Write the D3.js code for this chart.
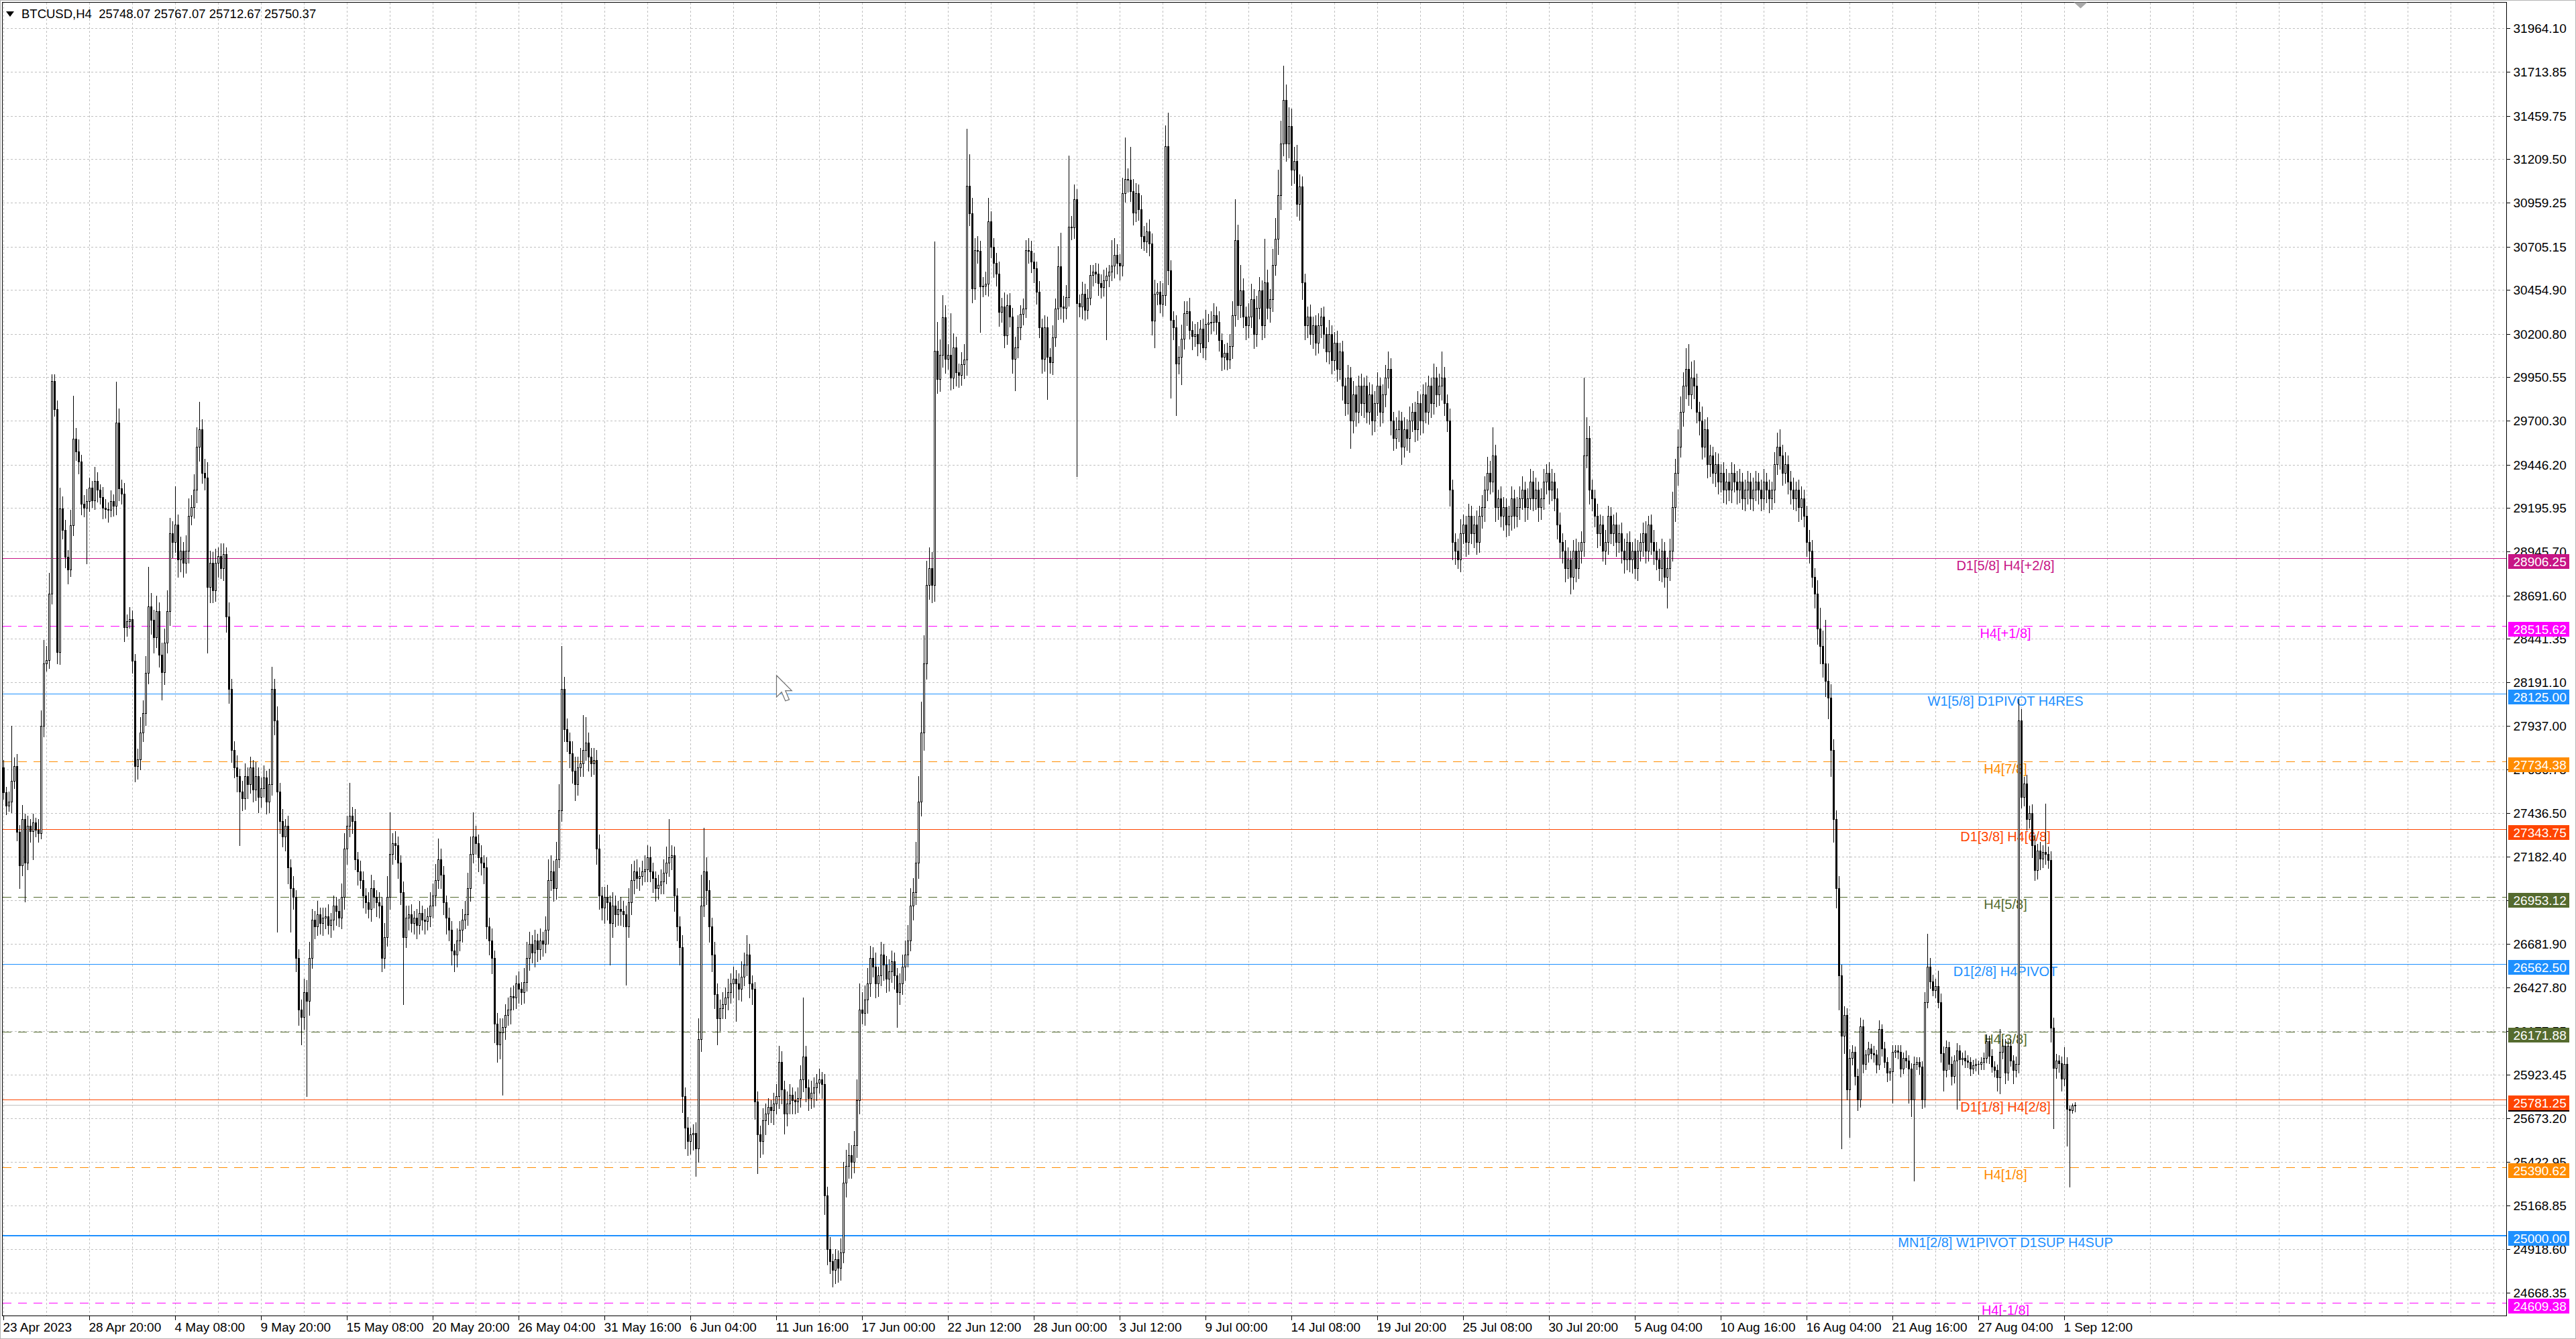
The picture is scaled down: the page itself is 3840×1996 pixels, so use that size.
<!DOCTYPE html>
<html><head><meta charset="utf-8">
<script src="https://cdn.jsdelivr.net/npm/d3@7/dist/d3.min.js"></script>
<style>
html,body{margin:0;padding:0;background:#fff;overflow:hidden;}
svg{display:block;}
text{font-family:"Liberation Sans",Arial,sans-serif;}
</style></head><body>
<svg id="c" width="3840" height="1996"></svg>
<script>
// ---------------- DATA ----------------
const symbolName = "BTCUSD,H4";
const lastBar = {open:25748.07, high:25767.07, low:25712.67, close:25750.37};
const firstOpen = 27700;
// H4 closes, one per bar (bar 0 = 23 Apr 2023 12:00)
const closes = [
27555,27478,27500,27620,27707,27325,27134,27400,27150,27360,
27330,27380,27340,27320,27937,28297,28320,28702,29929,29766,
28365,29193,29069,28914,28841,29097,29596,29522,29464,29220,
29197,29236,29313,29240,29352,29302,29259,29197,29190,29186,
29236,29209,29689,29309,29279,28508,28543,28554,28314,27708,
27746,27899,28014,28243,28626,28550,28450,28600,28350,28250,
28420,28600,29050,29000,29100,28900,28950,28880,28950,29150,
29200,29300,29550,29650,29400,29370,28740,28880,28720,28880,
28920,28850,28930,28570,28150,27800,27700,27650,27560,27520,
27650,27600,27700,27570,27650,27530,27580,27640,27500,27600,
28150,27970,27560,27390,27300,27360,27120,27000,26950,26600,
26300,26260,26400,26350,26600,26820,26780,26850,26800,26830,
26840,26790,26820,26900,26870,26830,26950,27230,27360,27420,
27390,27170,27100,27050,26960,26920,26880,27000,26950,26920,
26900,26600,26720,26950,27200,27260,27250,27150,26980,26720,
26830,26850,26800,26830,26790,26860,26820,26810,26840,26900,
26960,27050,27170,27080,26920,26830,26760,26640,26620,26700,
26760,26820,26850,27000,27200,27300,27260,27180,27150,27120,
26780,26700,26600,26220,26100,26170,26200,26270,26300,26380,
26370,26450,26420,26400,26460,26600,26680,26630,26700,26650,
26700,26680,26760,27050,27100,27000,27170,27450,28150,27920,
27850,27780,27680,27600,27700,27720,27800,27840,27760,27720,
27740,27230,26960,26890,26950,26920,26800,26900,26850,26880,
26870,26850,26780,26920,27050,27100,27060,27070,27100,27110,
27180,27100,27060,27000,27020,27040,27090,27150,27180,27190,
26960,26780,26660,25800,25620,25540,25580,25590,25500,26130,
26900,27100,26990,26780,26620,26390,26250,26310,26330,26370,
26400,26450,26480,26450,26420,26490,26560,26620,26450,26420,
25770,25580,25540,25660,25700,25740,25720,25760,25800,26000,
25840,25700,25760,25810,25780,25770,25790,25900,26030,25850,
25790,25820,25850,25880,25900,25870,25230,24920,24850,24800,
24860,24810,24900,25300,25400,25460,25420,25520,25780,26300,
26280,26360,26450,26600,26550,26450,26500,26620,26560,26480,
26520,26580,26500,26400,26450,26550,26620,26700,26900,26980,
27150,27500,27900,28300,28750,28850,28750,30103,29940,30080,
30297,30057,30080,29948,30123,29980,29965,30026,30053,31056,
30897,30463,30684,30680,30475,30480,30490,30850,30703,30610,
30548,30328,30359,30192,30367,30301,30057,30123,30239,30316,
30347,30684,30680,30618,30579,30444,30239,30057,30239,30069,
30037,30180,30347,30591,30359,30350,30413,30820,30815,30978,
30378,30359,30432,30340,30410,30540,30560,30548,30494,30470,
30510,30535,30560,30595,30657,30610,30595,31013,31095,31090,
31025,30901,31013,30920,30765,30734,30791,30722,30277,30432,
30445,30374,30425,31284,30567,30281,30240,30030,30069,30174,
30320,30330,30223,30190,30200,30146,30230,30123,30258,30265,
30270,30308,30270,30165,30069,30090,30053,30130,30308,30742,
30367,30450,30300,30250,30300,30400,30200,30350,30450,30250,
30500,30350,30400,30600,30750,31000,31300,31550,31300,31400,
31150,31200,30950,31050,30500,30250,30300,30200,30250,30150,
30250,30300,30200,30100,30200,30050,30150,30000,30100,29900,
29800,29950,29700,29850,29750,29900,29800,29900,29750,29850,
29700,29800,29900,29750,29850,29950,30000,29700,29600,29650,
29700,29550,29650,29600,29700,29750,29650,29800,29700,29850,
29750,29900,29800,29950,29850,29900,29950,29800,29700,29300,
29000,28950,28900,29050,29100,29000,29150,29050,29100,29000,
29150,29200,29300,29400,29350,29500,29200,29250,29150,29200,
29100,29150,29250,29150,29200,29250,29300,29200,29250,29350,
29250,29300,29200,29250,29350,29400,29300,29350,29250,29100,
29000,28950,28850,28900,28800,28950,28850,28950,29000,29500,
29600,29300,29250,29150,29050,29100,28950,29000,29150,29050,
29100,29000,29050,28950,28900,29000,28900,28950,28850,28950,
29000,29050,28950,29100,29000,28950,28900,28850,28950,28800,
28850,28950,29200,29400,29550,29750,29900,30000,29850,29950,
29900,29750,29700,29550,29650,29450,29500,29400,29450,29350,
29400,29300,29350,29300,29400,29350,29300,29350,29250,29300,
29350,29250,29300,29350,29300,29250,29350,29300,29250,29300,
29450,29550,29500,29400,29450,29350,29300,29250,29300,29200,
29250,29150,29000,28950,28800,28700,28500,28400,28300,28200,
28100,27800,27400,27000,26500,26150,26270,25841,26023,26057,
25919,25781,26204,25988,26040,26075,26050,26040,25985,26187,
26075,25997,25936,25945,26057,26066,26057,25962,26023,26006,
25962,25781,25988,25997,25971,25781,26343,26550,26464,26412,
26438,26343,26049,25954,26084,25988,25919,26006,26066,26014,
26023,26006,25997,25962,25980,25988,25988,25997,26023,26118,
26032,25971,25954,25911,26058,26092,25936,26092,26006,25954,
25988,27970,27528,27606,27400,27436,27250,27107,27217,27172,
27211,27200,27166,26196,25964,26007,25990,25902,25987,25728,
25720,25748.07,25750.37];
// distance from body top to high, per bar
const wickUp = [
40,30,60,317,50,70,40,80,30,60, 40,50,30,60,90,138,80,120,39,39,
50,120,70,60,40,90,248,60,70,40, 50,70,60,40,80,50,30,60,50,40,
60,40,236,80,50,60,40,70,50,40, 60,90,70,100,229,80,60,90,50,70,
80,120,90,70,220,60,80,50,90,100, 70,90,110,160,60,80,90,70,60,80,
50,70,60,40,80,60,50,70,40,60, 70,50,60,40,80,50,60,70,40,90,
130,60,80,50,70,40,60,50,70,40, 50,60,80,70,90,60,50,80,40,60,
50,70,40,60,50,70,80,90,60,190, 50,70,40,60,50,40,60,80,50,40,
60,50,80,120,240,60,70,50,40,60, 70,50,60,40,50,70,40,60,50,80,
70,90,120,60,50,40,60,50,40,70, 50,60,80,90,100,140,60,50,70,40,
60,50,70,40,60,80,50,60,70,50, 60,50,70,40,80,90,70,50,60,40,
70,50,80,120,90,60,100,150,250,70, 60,50,70,80,60,90,200,150,60,50,
70,60,80,50,60,70,40,80,60,50, 70,60,50,80,90,60,70,50,60,80,
70,60,50,40,60,70,80,90,220,60, 50,40,60,70,50,60,40,50,60,120,
180,250,80,60,50,70,60,50,70,60, 80,60,70,50,60,90,70,110,60,50,
40,60,50,70,60,50,40,60,70,90, 60,50,70,60,40,50,60,80,340,60,
50,70,60,50,60,40,60,50,70,40, 60,50,80,120,90,70,60,80,120,150,
100,80,90,70,60,80,50,70,60,50, 70,60,50,40,60,70,80,90,100,80,
120,150,180,160,140,120,90,631,167,90, 127,70,60,240,80,60,50,70,90,329,
182,90,70,80,60,50,70,136,60,50, 60,70,50,80,60,70,50,60,70,50,
60,58,70,60,50,40,60,50,70,60, 50,70,60,116,194,60,70,410,60,85,
60,50,70,60,50,60,40,50,60,50, 60,50,40,147,97,60,50,90,239,60,
190,70,60,50,80,60,50,70,60,80, 50,60,70,120,194,60,50,70,60,80,
70,60,80,50,60,70,50,60,80,50, 60,70,50,60,40,50,60,70,80,238,
90,150,70,60,80,90,60,70,80,60, 250,70,60,90,120,150,130,200,90,110,
100,80,90,70,60,50,60,70,50,60, 70,50,60,40,80,50,60,70,50,60,
50,70,60,80,50,60,70,50,60,70, 60,70,80,50,60,70,100,60,50,70,
60,50,70,60,80,50,60,70,50,60, 70,60,50,80,60,70,150,60,50,70,
60,50,70,80,60,50,70,60,50,80, 60,70,80,90,70,160,60,50,70,60,
50,60,70,50,60,70,80,50,60,70, 60,70,50,60,70,50,60,70,50,60,
70,50,60,70,50,60,70,50,60,450, 120,70,60,50,70,60,50,70,60,50,
60,70,50,60,70,50,60,50,70,60, 50,60,70,50,60,70,50,60,70,50,
60,70,90,80,100,90,80,120,140,90, 100,70,60,80,60,70,60,50,70,60,
50,60,70,50,60,50,60,70,50,60, 60,50,70,60,50,60,70,50,60,50,
70,80,100,60,70,50,60,70,50,60, 70,50,60,70,60,50,80,120,90,250,
100,80,60,50,70,60,50,40,50,40, 30,40,50,40,30,40,30,40,30,52,
30,40,30,20,40,30,30,40,30,40, 30,30,40,30,30,30,60,190,50,40,
40,86,50,40,40,30,40,30,40,30, 30,40,30,30,30,30,20,30,30,40,
30,40,30,30,129,40,40,30,40,30, 40,124,65,40,50,40,50,60,40,50,
40,279,40,50,60,40,30,40,97,40, 20,12,17];
// distance from body bottom to low, per bar
const wickDn = [
40,50,30,60,40,50,134,60,227,40, 60,160,40,50,30,60,40,50,60,40,
65,70,50,60,80,40,60,50,70,60, 50,321,60,40,50,70,40,60,50,70,
40,60,50,70,60,80,50,40,70,90, 77,60,50,70,60,80,90,60,70,160,
70,60,80,90,60,100,70,80,60,70, 50,60,70,80,60,70,380,90,70,60,
80,60,70,90,80,70,60,90,310,70, 60,80,50,70,60,90,60,50,70,60,
60,80,810,70,60,80,90,250,70,80, 90,160,70,550,80,60,70,50,60,70,
60,50,70,60,80,50,60,70,90,60, 70,60,80,50,70,60,50,70,60,80,
70,80,60,50,70,60,80,90,70,390, 60,70,50,60,80,50,60,70,50,60,
70,60,50,80,70,90,60,80,100,70, 60,70,50,60,70,50,60,80,70,90,
70,80,90,110,100,80,360,70,60,80, 70,60,80,70,60,50,70,60,80,70,
60,70,50,80,60,70,60,50,60,70, 60,80,70,90,60,50,70,60,80,70,
60,90,80,70,90,100,240,80,70,60, 80,70,335,60,70,80,60,70,50,60,
70,60,80,70,60,50,70,60,80,70, 90,80,100,90,120,80,70,90,160,80,
70,60,80,90,100,80,150,70,60,80, 70,60,80,215,60,70,50,60,80,90,
100,225,90,70,80,60,70,80,60,70, 80,116,70,60,80,70,60,50,70,80,
70,60,80,70,60,80,110,90,70,100, 80,80,70,60,80,70,90,60,70,80,
60,70,80,70,60,80,70,60,90,80, 70,60,80,200,70,60,80,70,60,80,
70,90,80,100,90,80,100,90,80,70, 70,80,60,70,60,80,70,60,80,90,
70,80,60,70,263,60,50,70,60,80, 70,80,60,70,50,60,80,182,60,70,
60,50,70,60,80,70,60,80,70,245, 60,70,50,60,70,80,60,50,70,60,
998,60,70,60,50,40,60,50,70,60, 50,340,60,50,70,60,80,60,50,70,
60,70,50,60,70,50,60,70,80,154, 60,50,70,60,80,449,70,300,60,160,
60,70,50,80,60,70,50,60,70,100, 60,50,70,60,80,70,60,50,70,60,
80,70,60,80,70,60,80,70,60,80, 70,60,80,70,60,90,80,70,100,80,
90,80,70,90,100,80,70,60,80,70, 60,70,80,60,70,80,60,70,60,80,
70,60,160,70,80,60,70,80,60,70, 80,60,70,80,60,70,60,80,70,60,
70,100,60,70,80,60,70,60,80,70, 60,70,80,60,70,60,80,70,60,90,
100,80,50,70,60,80,70,60,80,70, 60,70,80,60,70,60,80,70,60,80,
70,60,80,70,60,70,60,80,70,60, 70,60,80,70,60,70,80,60,70,80,
90,70,80,60,100,70,80,60,70,80, 70,80,70,60,80,70,60,80,70,60,
70,80,60,70,80,60,70,80,60,70, 60,80,70,60,70,80,60,70,80,60,
180,70,60,80,70,60,80,70,60,80, 70,60,80,70,60,80,70,60,80,70,
60,70,80,60,70,60,80,70,60,70, 80,60,70,60,80,70,60,70,80,60,
70,60,80,70,60,70,80,60,70,80, 70,60,80,70,60,80,90,100,80,90,
120,150,130,110,200,650,100,60,276,40, 50,60,40,50,30,40,30,40,50,30,
40,30,50,40,181,30,40,50,30,40, 198,95,467,30,40,50,40,30,40,30,
40,30,50,121,40,30,50,40,277,234, 30,40,30,40,30,30,60,30,40,30,
40,30,40,80,96,40,60,40,30,80, 40,50,60,50,60,50,70,60,50,60,
50,60,50,80,349,60,50,70,40,213, 442,15,35];
// price axis ticks
const priceTicks = [31964.10,31713.85,31459.75,31209.50,30959.25,30705.15,30454.90,30200.80,29950.55,29700.30,
29446.20,29195.95,28945.70,28691.60,28441.35,28191.10,27937.00,27686.75,27436.50,27182.40,26932.15,26681.90,
26427.80,26177.55,25923.45,25673.20,25422.95,25168.85,24918.60,24668.35];
// time axis labels (one every 32 bars)
const timeLabels = ["23 Apr 2023","28 Apr 20:00","4 May 08:00","9 May 20:00","15 May 08:00","20 May 20:00",
"26 May 04:00","31 May 16:00","6 Jun 04:00","11 Jun 16:00","17 Jun 00:00","22 Jun 12:00","28 Jun 00:00",
"3 Jul 12:00","9 Jul 00:00","14 Jul 08:00","19 Jul 20:00","25 Jul 08:00","30 Jul 20:00","5 Aug 04:00",
"10 Aug 16:00","16 Aug 04:00","21 Aug 16:00","27 Aug 04:00","1 Sep 12:00"];
// Murrey-math / pivot levels
const levelPrices = [28906.25,28515.62,28125.00,27734.38,27343.75,26953.12,26562.50,26171.88,25781.25,25390.62,25000.00,24609.38];
const levelNames = ["D1[5/8] H4[+2/8]","H4[+1/8]","W1[5/8] D1PIVOT H4RES","H4[7/8]","D1[3/8] H4[6/8]","H4[5/8]",
"D1[2/8] H4PIVOT","H4[3/8]","D1[1/8] H4[2/8]","H4[1/8]","MN1[2/8] W1PIVOT D1SUP H4SUP","H4[-1/8]"];
// bar / price where the mouse pointer rests
const pointerAt = {bar:288, price:28230};

// ---------------- STYLES ----------------
const levelStyle = [
 {color:"#C71585",dash:null,w:1},{color:"#FF00FF",dash:"13,10",w:1},{color:"#1E90FF",dash:null,w:1},
 {color:"#FF8C00",dash:"13,10",w:1},{color:"#FF4500",dash:null,w:1},{color:"#556B2F",dash:"13,10",w:1},
 {color:"#1E90FF",dash:null,w:1},{color:"#556B2F",dash:"13,10",w:1},{color:"#FF4500",dash:null,w:1},
 {color:"#FF8C00",dash:"13,10",w:1},{color:"#1E90FF",dash:null,w:2},{color:"#FF00FF",dash:"13,10",w:1}];
const GRID="#c0c0c0";

// ---------------- CHART ----------------
const W=3840,H=1996;
const plot={left:3.5,top:3.5,right:3736.5,bottom:1961.5};
const svg=d3.select("#c");
svg.append("rect").attr("width",W).attr("height",H).attr("fill","#ffffff");
svg.append("rect").attr("x",0.5).attr("y",0.5).attr("width",W-1).attr("height",H-1)
  .attr("fill","none").attr("stroke","#b4b4b4");

const n=closes.length;
const x=d3.scaleLinear().domain([0,n-1]).range([5.5,5.5+4*(n-1)]);
const y=d3.scaleLinear().domain([24668.35,31964.10]).range([1926.6,42.4]);
const py=v=>Math.round(y(v))+0.5;

const bars=closes.map((c,i)=>{
  const o=i===0?firstOpen:closes[i-1];
  return {i,o,c,h:Math.max(o,c)+wickUp[i],l:Math.min(o,c)-wickDn[i]};
});
const lb=bars[n-1]; lb.o=lastBar.open; lb.h=lastBar.high; lb.l=lastBar.low; lb.c=lastBar.close;

svg.append("defs").append("clipPath").attr("id","pc").append("rect")
  .attr("x",plot.left).attr("y",plot.top).attr("width",plot.right-plot.left).attr("height",plot.bottom-plot.top);
const P=svg.append("g").attr("clip-path","url(#pc)").attr("shape-rendering","crispEdges");

// grid
const gridG=P.append("g").attr("stroke",GRID).attr("stroke-dasharray","3,3");
const vIdx=d3.range(0,2000,16).filter(k=>x(k)<plot.right);
gridG.selectAll("line.v").data(vIdx).join("line").attr("class","v")
  .attr("x1",d=>x(d)).attr("x2",d=>x(d)).attr("y1",plot.top).attr("y2",plot.bottom);
gridG.selectAll("line.h").data(priceTicks).join("line").attr("class","h")
  .attr("x1",plot.left).attr("x2",plot.right).attr("y1",d=>py(d)).attr("y2",d=>py(d));

// level lines
const lv=levelPrices.map((p,k)=>({p,name:levelNames[k],...levelStyle[k]}));
P.append("g").selectAll("line").data(lv).join("line")
  .attr("x1",plot.left).attr("x2",plot.right)
  .attr("y1",d=>d.w===2?Math.round(y(d.p))+1:py(d.p)).attr("y2",d=>d.w===2?Math.round(y(d.p))+1:py(d.p))
  .attr("stroke",d=>d.color).attr("stroke-width",d=>d.w).attr("stroke-dasharray",d=>d.dash);
// current bid line
P.append("line").attr("x1",plot.left).attr("x2",plot.right)
  .attr("y1",py(lastBar.close)).attr("y2",py(lastBar.close)).attr("stroke","#c0c0c0");

// level labels
P.append("g").attr("shape-rendering","auto").selectAll("text").data(lv).join("text")
  .attr("x",x(746)).attr("y",d=>Math.round(y(d.p))+18)
  .attr("text-anchor","middle").attr("font-size",20).attr("fill",d=>d.color).text(d=>d.name);

// candles
const cg=P.append("g");
cg.selectAll("line").data(bars).join("line")
  .attr("x1",d=>x(d.i)).attr("x2",d=>x(d.i))
  .attr("y1",d=>Math.round(y(d.h))).attr("y2",d=>Math.round(y(d.l))+1)
  .attr("stroke","#000");
cg.selectAll("rect.b").data(bars).join("rect").attr("class","b")
  .attr("x",d=>x(d.i)-1.5).attr("width",3)
  .attr("y",d=>Math.round(y(Math.max(d.o,d.c))))
  .attr("height",d=>Math.max(1,Math.round(y(Math.min(d.o,d.c)))-Math.round(y(Math.max(d.o,d.c)))+1))
  .attr("fill","#000");
cg.selectAll("rect.w").data(bars.filter(d=>d.c>d.o &&
    Math.round(y(d.o))-Math.round(y(d.c))>=2)).join("rect").attr("class","w")
  .attr("x",d=>x(d.i)-0.5).attr("width",1)
  .attr("y",d=>Math.round(y(d.c))+1)
  .attr("height",d=>Math.round(y(d.o))-Math.round(y(d.c))-1)
  .attr("fill","#fff");

// mouse cursor
const cur=[[0,0],[0,17],[4,13],[7,20],[10,19],[7,12],[12,12]];
const tip={x:x(pointerAt.bar),y:y(pointerAt.price)};
P.append("polygon").attr("shape-rendering","auto")
  .attr("points",cur.map(p=>[tip.x+p[0]*1.9,tip.y+p[1]*1.9].join(",")).join(" "))
  .attr("fill","#fff").attr("stroke","#707070").attr("stroke-width",1.2);

// frame
svg.append("rect").attr("x",plot.left).attr("y",plot.top)
  .attr("width",plot.right-plot.left).attr("height",plot.bottom-plot.top)
  .attr("fill","none").attr("stroke","#000").attr("shape-rendering","crispEdges");
// shift marker
svg.append("polygon").attr("points",[[x(n-1)-2,plot.top],[x(n-1)+18,plot.top],[x(n-1)+8,plot.top+9]].map(p=>p.join(",")).join(" "))
  .attr("fill","#a8a8a8");

// price axis
const ay=svg.append("g");
ay.selectAll("line").data(priceTicks).join("line").attr("shape-rendering","crispEdges")
  .attr("x1",plot.right).attr("x2",plot.right+5).attr("y1",d=>py(d)).attr("y2",d=>py(d)).attr("stroke","#000");
ay.selectAll("text").data(priceTicks).join("text")
  .attr("x",plot.right+10).attr("y",d=>y(d)+7).attr("font-size",19).attr("fill","#000")
  .text(d=>d.toFixed(2));

// time axis
const tIdx=timeLabels.map((t,k)=>({t,i:k*32}));
const ax=svg.append("g");
ax.selectAll("line").data(tIdx).join("line").attr("shape-rendering","crispEdges")
  .attr("x1",d=>x(d.i)).attr("x2",d=>x(d.i)).attr("y1",plot.bottom).attr("y2",plot.bottom+6).attr("stroke","#000");
ax.selectAll("text").data(tIdx).join("text")
  .attr("x",d=>x(d.i)-1).attr("y",1985).attr("font-size",19).attr("fill","#000").text(d=>d.t);

// price boxes: current bid first, level boxes drawn over it; each box with its own text
const boxes=[{p:lastBar.close,color:"#000",cur:true}].concat(lv.map(d=>({p:d.p,color:d.color,cur:false})));
const bg=svg.append("g").selectAll("g").data(boxes).join("g");
bg.append("rect").attr("shape-rendering","crispEdges")
  .attr("x",plot.right+2).attr("width",91)
  .attr("y",d=>d.cur?Math.round(y(d.p))-10:Math.round(y(d.p))-6)
  .attr("height",d=>d.cur?20:22).attr("fill",d=>d.color);
bg.append("text")
  .attr("x",plot.right+10).attr("y",d=>d.cur?Math.round(y(d.p))+7:Math.round(y(d.p))+12)
  .attr("font-size",19).attr("fill","#fff").text(d=>d.p.toFixed(2));

// header
svg.append("polygon").attr("points","9,17 21,17 15,25").attr("fill","#000");
svg.append("text").attr("x",32).attr("y",27).attr("font-size",18.5).attr("fill","#000")
  .style("white-space","pre")
  .text(symbolName+"  "+[lastBar.open,lastBar.high,lastBar.low,lastBar.close].map(v=>v.toFixed(2)).join(" "));
</script>
</body></html>
